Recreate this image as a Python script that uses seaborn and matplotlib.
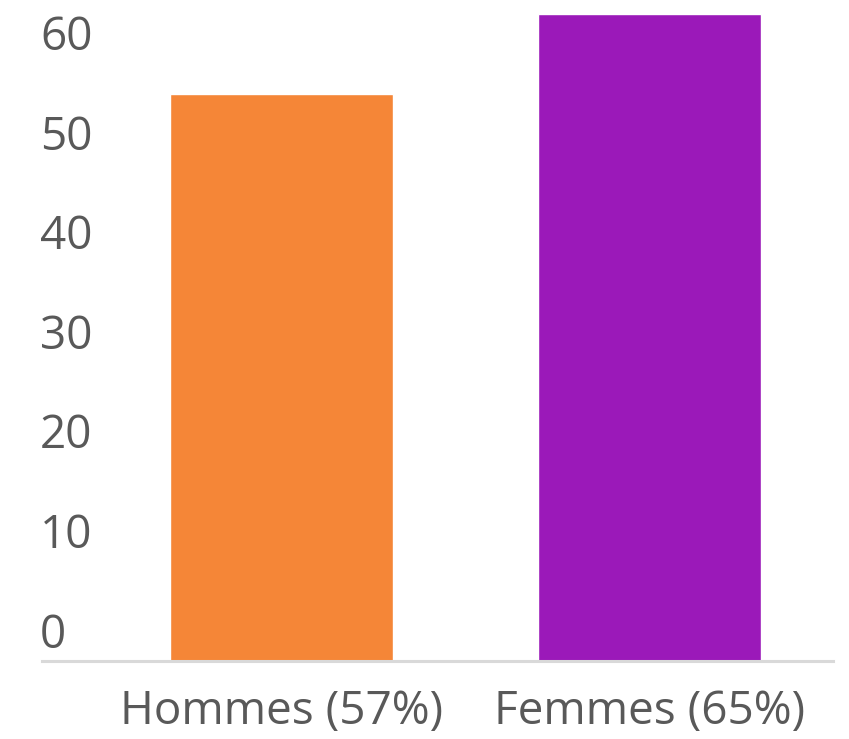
import matplotlib
matplotlib.use("Agg")
import matplotlib.pyplot as plt
import matplotlib.transforms as mtransforms
import seaborn as sns
import pandas as pd

# data
categories = ["Hommes (57%)", "Femmes (65%)"]
values = [57, 65]
colors = ["#F58637", "#9B19B9"]
yticks = [0, 10, 20, 30, 40, 50, 60]

sns.set_style("white")
plt.rcParams['font.family'] = ['Open Sans', 'DejaVu Sans']

df = pd.DataFrame({"cat": categories, "val": values})

fig = plt.figure(figsize=(8.49, 7.39), dpi=100)
ax = fig.add_axes([42 / 849, 78 / 739, 791 / 849, 661 / 739])

sns.barplot(data=df, x="cat", y="val", hue="cat", palette=colors,
            width=0.605, legend=False, ax=ax, saturation=1)

ax.set_xlim(-0.65, 1.497)
ax.set_ylim(0, 66.43)
ax.set_yticks(yticks)
ax.set_xlabel("")
ax.set_ylabel("")

for side in ["top", "right", "left"]:
    ax.spines[side].set_visible(False)
ax.spines["bottom"].set_color("#D9D9D9")
ax.spines["bottom"].set_linewidth(2.2)

ax.tick_params(axis="x", length=0, pad=20, labelsize=33, labelcolor="#595959")
ax.tick_params(axis="y", length=0, pad=0, labelsize=33, labelcolor="#595959")

# y labels sit inside the plot area and a bit above their gridline
shift = mtransforms.ScaledTranslation(-2 / 100, 31 / 100, fig.dpi_scale_trans)
for lab in ax.get_yticklabels():
    lab.set_horizontalalignment("left")
    lab.set_transform(lab.get_transform() + shift)

fig.savefig("out.png", dpi=100)
